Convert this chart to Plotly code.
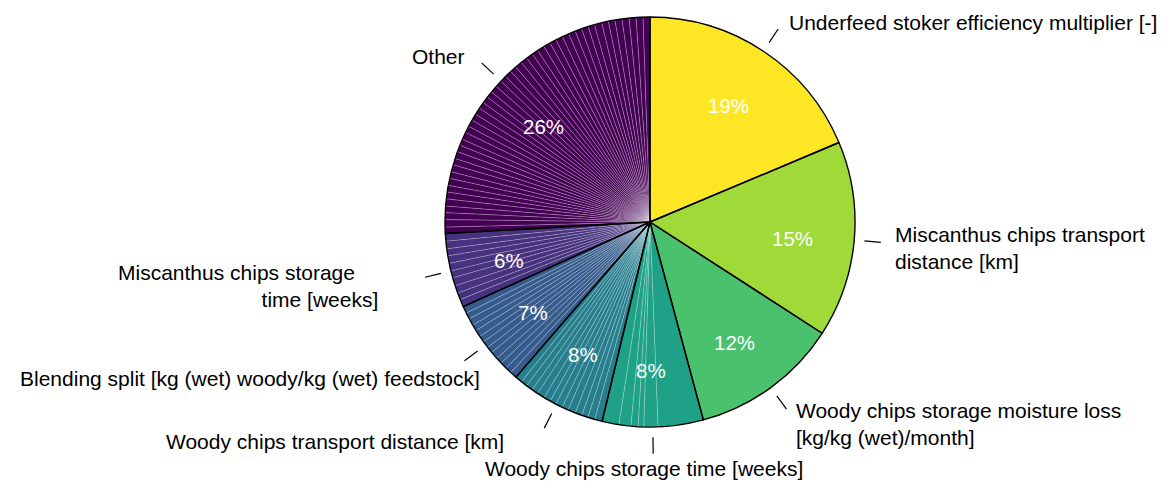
import math
import plotly.graph_objects as go

# ---------------- data ----------------
group_labels = [
    "Underfeed stoker efficiency multiplier [-]",
    "Miscanthus chips transport<br>distance [km]",
    "Woody chips storage moisture loss<br>[kg/kg (wet)/month]",
    "Woody chips storage time [weeks]",
    "Woody chips transport distance [km]",
    "Blending split [kg (wet) woody/kg (wet) feedstock]",
    "Miscanthus chips storage\u00a0\u00a0\u00a0\u00a0<br>time [weeks]",
    "Other",
]

# sub-contributions (percent) making up each group wedge
sub_underfeed = [18.7]
sub_misc_transport = [15.5]
sub_woody_moisture = [11.7]
sub_woody_storage = [3.58, 1.11, 0.44, 0.56, 0.94, 1.33]
sub_woody_transport = [0.6, 0.55, 0.5, 0.55, 0.6, 0.5, 0.55, 0.5, 0.55, 0.6, 0.5, 0.55, 0.5, 0.55]
sub_blending = [0.55, 0.5, 0.55, 0.5, 0.6, 0.5, 0.55, 0.5, 0.55, 0.5, 0.55, 0.5, 0.55]
sub_misc_storage = [0.6, 0.55, 0.6, 0.65, 0.55, 0.6, 0.6, 0.55, 0.6, 0.6]
sub_other = [0.5, 0.58, 0.54, 0.52, 0.56, 0.54, 0.52, 0.55, 0.53, 0.57, 0.51, 0.56,
             0.54, 0.5, 0.58, 0.53, 0.55, 0.54, 0.56, 0.52, 0.54, 0.51, 0.57, 0.54,
             0.53, 0.55, 0.52, 0.56, 0.54, 0.54, 0.5, 0.57, 0.55, 0.52, 0.56, 0.54,
             0.55, 0.53, 0.54, 0.51, 0.58, 0.53, 0.52, 0.56, 0.55, 0.55, 0.54, 0.54]

sub_groups = [sub_underfeed, sub_misc_transport, sub_woody_moisture, sub_woody_storage,
              sub_woody_transport, sub_blending, sub_misc_storage, sub_other]

colors = ["#fde725", "#a0da39", "#4ac16d", "#1fa187", "#277f8e", "#365c8d", "#46327e", "#440154"]

# ---------------- layout / style ----------------
OFF = 8                      # page body margin
W, H = 1171 - 2 * OFF, 488 - 2 * OFF
CX, CY, R = 650 - OFF, 222 - OFF, 205
FONT = "Liberation Sans, Arial, Helvetica, sans-serif"
PCT_SHIFT = (-1, 4)          # pixel nudge of the percent labels

# label anchor placement: (x-anchor, pixel nudge from 1.2R point)
label_anchor = ["left", "left", "left", "center", "right", "right", "right", "right"]
label_nudge = [(1, 5), (-2, 4), (-1, 3), (-9, 1), (-32, 1), (29, 9), (-31, 5), (-4, 4)]

group_vals = [sum(s) for s in sub_groups]
total = sum(group_vals)

sub_vals, sub_cols = [], []
for s, c in zip(sub_groups, colors):
    for v in s:
        sub_vals.append(v)
        sub_cols.append(c)

dom_x = [(CX - R) / W, (CX + R) / W]
dom_y = [1 - (CY + R) / H, 1 - (CY - R) / H]

fig = go.Figure()
fig.add_trace(go.Pie(
    values=sub_vals, sort=False, direction="clockwise", rotation=0,
    marker=dict(colors=sub_cols, line=dict(color="rgba(255,255,255,0.3)", width=0.7)),
    textinfo="none", hoverinfo="skip", domain=dict(x=dom_x, y=dom_y), showlegend=False,
))
fig.add_trace(go.Pie(
    values=group_vals, labels=[l.replace("<br>", " ") for l in group_labels],
    sort=False, direction="clockwise", rotation=0,
    marker=dict(colors=["rgba(0,0,0,0)"] * len(group_vals), line=dict(color="black", width=1.4)),
    textinfo="none", domain=dict(x=dom_x, y=dom_y), showlegend=False,
))


def to_paper(px, py):
    return px / W, 1 - py / H


annotations, shapes = [], []
cum = 0.0
for i, v in enumerate(group_vals):
    mid = (cum + v / 2) / total * 2 * math.pi
    cum += v
    s, c = math.sin(mid), math.cos(mid)
    # percent label
    px = CX + 0.705 * R * s + PCT_SHIFT[0]
    py = CY - 0.705 * R * c + PCT_SHIFT[1]
    x, y = to_paper(px, py)
    annotations.append(dict(x=x, y=y, xref="paper", yref="paper", showarrow=False,
                            xanchor="center", yanchor="middle",
                            text=f"{round(v / total * 100)}%",
                            font=dict(family=FONT, size=20.5, color="white")))
    # leader tick
    x0, y0 = to_paper(CX + 1.05 * R * s, CY - 1.05 * R * c)
    x1, y1 = to_paper(CX + 1.13 * R * s, CY - 1.13 * R * c)
    shapes.append(dict(type="line", xref="paper", yref="paper", x0=x0, y0=y0, x1=x1, y1=y1,
                       line=dict(color="black", width=1.2)))
    # outer label
    dx, dy = label_nudge[i]
    lx, ly = to_paper(CX + 1.2 * R * s + dx, CY - 1.2 * R * c + dy)
    annotations.append(dict(x=lx, y=ly, xref="paper", yref="paper", showarrow=False,
                            text=group_labels[i], xanchor=label_anchor[i], yanchor="middle",
                            align=label_anchor[i],
                            font=dict(family=FONT, size=21, color="black")))

fig.update_layout(
    width=W, height=H, margin=dict(l=0, r=0, t=0, b=0),
    paper_bgcolor="white", plot_bgcolor="white",
    annotations=annotations, shapes=shapes, showlegend=False,
)

fig.write_html("out.html")
